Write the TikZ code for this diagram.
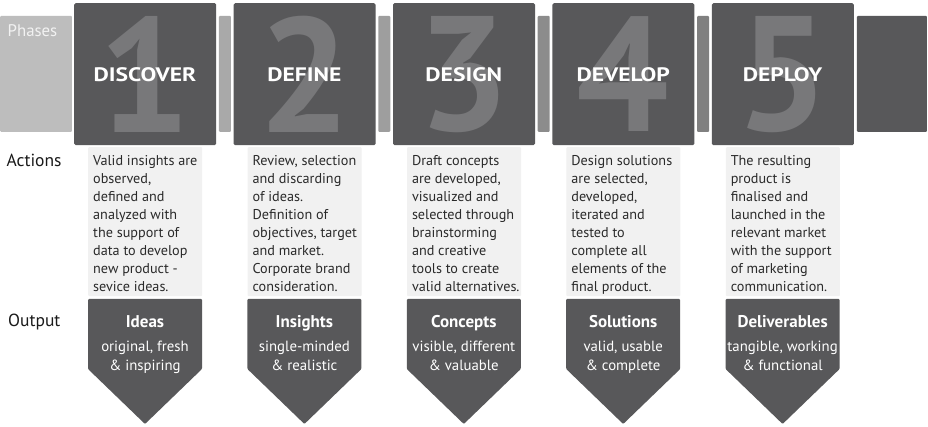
\documentclass[tikz,border=0pt]{standalone}
\usepackage{fontspec}
\setmainfont{PT Sans}
\newfontfamily\titlefont{PT Sans}[FakeStretch=1.21]
\definecolor{boxdark}{HTML}{58585A}
\definecolor{digitgray}{HTML}{78787A}
\definecolor{phasegray}{HTML}{BDBDBD}
\definecolor{barA}{HTML}{A9A9A9}
\definecolor{barB}{HTML}{9E9E9E}
\definecolor{barC}{HTML}{8C8C8C}
\definecolor{barD}{HTML}{808080}
\definecolor{actfill}{HTML}{F1F1F1}
\definecolor{acttext}{HTML}{2A2A2A}
\definecolor{labeltext}{HTML}{1A1A1A}
\begin{document}
\begin{tikzpicture}[x=1pt,y=-1pt,
  darkbox/.style={fill=boxdark, rounded corners=1.5pt, inner sep=0pt, minimum width=142pt, minimum height=142pt, anchor=north west},
  linkbar/.style={inner sep=0pt, minimum width=12pt, minimum height=116pt, anchor=north west, rounded corners=1pt},
  digit/.style={text=digitgray, inner sep=0pt, font=\bfseries\fontsize{163}{163}\selectfont},
  phasetitle/.style={text=white, inner sep=0pt, anchor=base, font=\titlefont\bfseries\fontsize{19.5}{24}\selectfont},
  actbox/.style={fill=actfill, inner sep=0pt, minimum width=114pt, minimum height=149pt, anchor=north west, rounded corners=1pt},
  acttxt/.style={text=acttext, inner sep=0pt, anchor=base west, align=left, font=\fontsize{14.2}{17.86}\selectfont},
  outshape/.style={fill=boxdark, rounded corners=1pt},
  outtitle/.style={text=white, inner sep=0pt, anchor=base, font=\bfseries\fontsize{17}{20}\selectfont},
  outsub/.style={text=white, inner sep=0pt, anchor=base, align=center, font=\fontsize{14.8}{18.4}\selectfont},
  rowlabel/.style={text=labeltext, inner sep=0pt, anchor=base west, font=\fontsize{17.5}{20}\selectfont}
]
\useasboundingbox (0,0) rectangle (928,427);
\fill[white] (0,0) rectangle (928,427);

% row labels and phases box
\node[linkbar, fill=phasegray, minimum width=71.7pt] (phasesbox) at (0,15.7) {};
\node[text=white!95!black, inner sep=0pt, anchor=base west, font=\fontsize{16.8}{18}\selectfont] (phaseslbl) at (7.5,36.5) {Phases};
\node[rowlabel] (actionslbl) at (6.5,166.5) {Actions};
\node[rowlabel] (outputlbl) at (8,326.7) {Output};

% link bars
\node[linkbar, fill=barA] (bar1) at (218.7,15.7) {};
\node[linkbar, fill=barB] (bar2) at (378.1,15.7) {};
\node[linkbar, fill=barC] (bar3) at (537.5,15.7) {};
\node[linkbar, fill=barD] (bar4) at (696.9,15.7) {};
\node[linkbar, fill=boxdark, minimum width=70pt] (endbar) at (856.7,15.7) {};

\foreach \i/\d/\ttl/\out/\suba/\subb/\act in {
  0/1/DISCOVER/Ideas/{original, fresh}/{\& inspiring}/{Valid insights are\\observed,\\defined and\\analyzed with\\the support of\\data to develop\\new product -\\sevice ideas.},
  1/2/DEFINE/Insights/{single-minded}/{\& realistic}/{Review, selection\\and discarding\\of ideas.\\Definition of\\objectives, target\\and market.\\Corporate brand\\consideration.},
  2/3/DESIGN/Concepts/{visible, different}/{\& valuable}/{Draft concepts\\are developed,\\visualized and\\selected through\\brainstorming\\and creative\\tools to create\\valid alternatives.},
  3/4/DEVELOP/Solutions/{valid, usable}/{\& complete}/{Design solutions\\are selected,\\developed,\\iterated and\\tested to\\complete all\\elements of the\\final product.},
  4/5/DEPLOY/Deliverables/{tangible, working}/{\& functional}/{The resulting\\product is\\finalised and\\launched in the\\relevant market\\with the support\\of marketing\\communication.}}
{
  \pgfmathsetmacro\L{74+159.4*\i}
  \pgfmathsetmacro\C{\L+71}
  \node[darkbox] (box\d) at (\L,3) {};
  \node[digit] (num\d) at (\C,74.5) {\d};
  \node[phasetitle] (title\d) at (\C,81.7) {\ttl};
  \node[actbox] (actbox\d) at (\L+14,147) {};
  \node[acttxt] (acttxt\d) at (\L+19,291) {\act};
  \fill[outshape] (\L+14,299) -- (\L+128,299) -- (\L+128,369) -- (\C,424) -- (\L+14,369) -- cycle;
  \node[outtitle] (outtitle\d) at (\C,327.3) {\out};
  \node[outsub] (outsub\d) at (\C,370) {\suba\\\subb};
}
\end{tikzpicture}
\end{document}
